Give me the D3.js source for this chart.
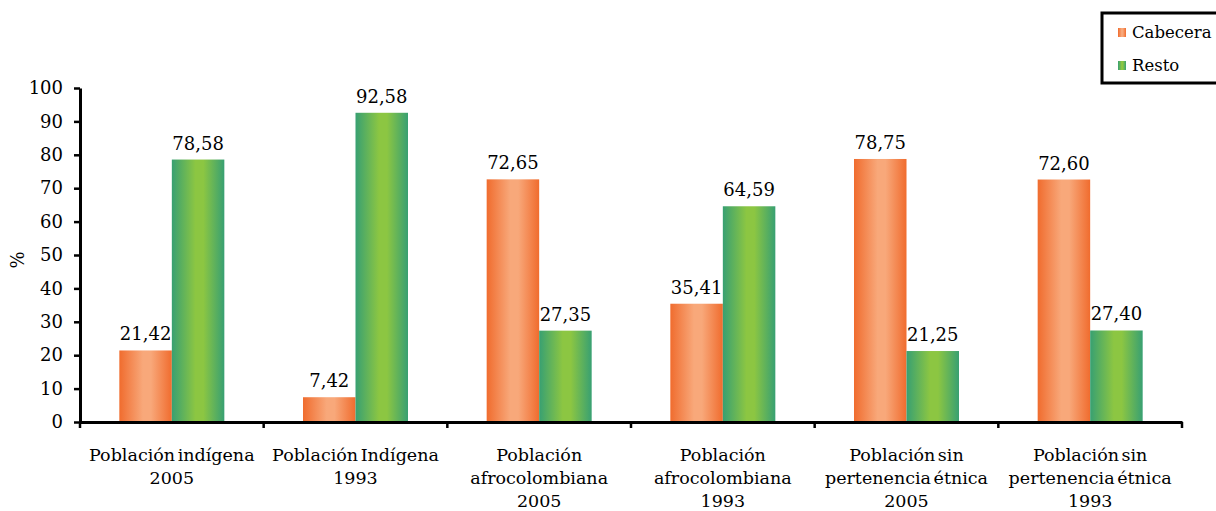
<!DOCTYPE html>
<html><head><meta charset="utf-8">
<script src="https://cdn.jsdelivr.net/npm/d3@7"></script>
<style>body{margin:0;background:#fff}svg{display:block}text{font-family:"DejaVu Serif",Georgia,serif;fill:#000}</style>
</head><body><svg id="c" width="1216" height="511"></svg>
<script>
const categories = [
  ["Población indígena","2005"],
  ["Población Indígena","1993"],
  ["Población","afrocolombiana","2005"],
  ["Población","afrocolombiana","1993"],
  ["Población sin","pertenencia étnica","2005"],
  ["Población sin","pertenencia étnica","1993"]
];
const seriesNames = ["Cabecera","Resto"];
const cabecera = [21.42, 7.42, 72.65, 35.41, 78.75, 72.60];
const resto = [78.58, 92.58, 27.35, 64.59, 21.25, 27.40];
const yTicks = [0,10,20,30,40,50,60,70,80,90,100];

const svg = d3.select("#c");
const defs = svg.append("defs");
function grad(id, edge, mid){
  const g = defs.append("linearGradient").attr("id",id).attr("x1","0").attr("x2","1").attr("y1","0").attr("y2","0");
  g.append("stop").attr("offset","0%").attr("stop-color",edge);
  g.append("stop").attr("offset","45%").attr("stop-color",mid);
  g.append("stop").attr("offset","60%").attr("stop-color",mid);
  g.append("stop").attr("offset","100%").attr("stop-color",edge);
}
grad("gO","#F06C2E","#F8A87A");
grad("gG","#38A072","#8CC642");
const fills = ["url(#gO)","url(#gG)"];

const m = {l:80, r:1182, t:88, b:422};
const x = d3.scaleBand().domain(d3.range(categories.length)).range([m.l,m.r]).paddingInner(0).paddingOuter(0);
const y = d3.scaleLinear().domain([0,100]).range([m.b,m.t]);
const pairW = 105;
const xi = d3.scaleBand().domain([0,1]).range([(x.bandwidth()-pairW)/2,(x.bandwidth()+pairW)/2]);

const data = categories.map((c,i)=>[cabecera[i], resto[i]]);
const g = svg.append("g");
data.forEach((vals,i)=>{
  vals.forEach((v,s)=>{
    const bx = x(i)+xi(s);
    g.append("rect").attr("x",bx).attr("y",y(v)).attr("width",xi.bandwidth()).attr("height",y(0)-y(v)).attr("fill",fills[s]);
    g.append("text").attr("x",bx+xi.bandwidth()/2).attr("y",y(v)-10).attr("text-anchor","middle")
      .style("font-size","18px").text(v.toFixed(2).replace(".",","));
  });
});

// Y axis
const ya = svg.append("g").attr("transform",`translate(${m.l},0)`)
  .call(d3.axisLeft(y).tickValues(yTicks).tickSize(6).tickPadding(11).tickSizeOuter(0));
ya.select(".domain").attr("stroke","#000").attr("stroke-width",3);
ya.selectAll(".tick line").attr("stroke","#000").attr("stroke-width",2.5);
ya.selectAll(".tick text").style("font-size","18px").style("font-family","DejaVu Serif").attr("fill","#000");

// X axis
const xa = svg.append("g").attr("transform",`translate(0,${m.b})`)
  .call(d3.axisBottom(x).tickSize(0).tickFormat(""));
xa.select(".domain").attr("stroke","#000").attr("stroke-width",3);
const bounds = d3.range(categories.length+1).map(i=> i<categories.length ? x(i) : x(i-1)+x.bandwidth());
xa.selectAll(".bt").data(bounds).join("line").attr("class","bt")
  .attr("x1",d=>d).attr("x2",d=>d).attr("y1",0).attr("y2",6).attr("stroke","#000").attr("stroke-width",2.5);

categories.forEach((lines,i)=>{
  const t = svg.append("text").attr("text-anchor","middle").style("font-size","17.5px").style("word-spacing","-3px");
  lines.forEach((ln,k)=>{
    t.append("tspan").attr("x",x(i)+x.bandwidth()/2).attr("y",461+k*23).text(ln);
  });
});

svg.append("text").attr("transform","translate(24,260) rotate(-90)").attr("text-anchor","middle")
  .style("font-size","18px").text("%");

// Legend
const lg = svg.append("g");
lg.append("rect").attr("x",1102).attr("y",13).attr("width",130).attr("height",70).attr("fill","#fff").attr("stroke","#000").attr("stroke-width",3);
seriesNames.forEach((n,s)=>{
  const yy = 28 + s*33;
  lg.append("rect").attr("x",1118).attr("y",yy).attr("width",8).attr("height",9).attr("fill",fills[s]);
  lg.append("text").attr("x",1132).attr("y",yy+10).style("font-size","16.5px").text(n);
});
</script></body></html>
